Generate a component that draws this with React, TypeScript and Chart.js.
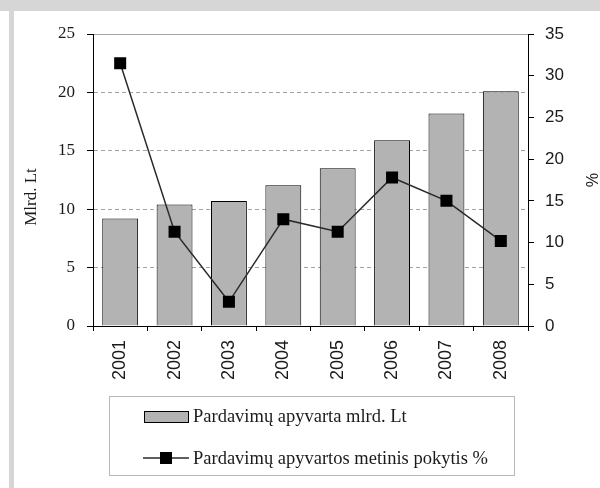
import React, { useEffect, useRef } from "react";
import { Chart, registerables } from "chart.js";

Chart.register(...registerables);

const years = ["2001", "2002", "2003", "2004", "2005", "2006", "2007", "2008"];
const turnover = [9.2, 10.4, 10.7, 12.05, 13.5, 15.9, 18.2, 20.1];
const changePct = [31.5, 11.3, 2.9, 12.8, 11.3, 17.8, 15.0, 10.2];
const leftTicks = [0, 5, 10, 15, 20, 25];
const rightTicks = [0, 5, 10, 15, 20, 25, 30, 35];
const barLabel = "Pardavimų apyvarta mlrd. Lt";
const lineLabel = "Pardavimų apyvartos metinis pokytis %";
const leftTitle = "Mlrd. Lt";
const rightTitle = "%";

const SERIF = '"Liberation Serif", "Times New Roman", serif';
const SANS = '"Liberation Sans", Arial, sans-serif';

const decorPlugin = {
  id: "decor",
  afterDraw(chart: any) {
    const ctx = chart.ctx as CanvasRenderingContext2D;
    ctx.save();
    // axis titles
    ctx.fillStyle = "#1a1a1a";
    ctx.font = `17px ${SERIF}`;
    ctx.textAlign = "center";
    ctx.textBaseline = "middle";
    ctx.save();
    ctx.translate(32, 197);
    ctx.rotate(-Math.PI / 2);
    ctx.fillText(leftTitle, 0, 0);
    ctx.restore();
    ctx.save();
    ctx.translate(590, 180);
    ctx.rotate(Math.PI / 2);
    ctx.font = `16px ${SANS}`;
    ctx.fillText(rightTitle, 0, 0);
    ctx.restore();

    // legend box
    ctx.strokeStyle = "#b8b8b8";
    ctx.lineWidth = 1;
    ctx.strokeRect(109.5, 396.5, 405, 79);

    const ds0 = chart.data.datasets[0];
    const ds1 = chart.data.datasets[1];
    // item 1
    ctx.fillStyle = ds0.backgroundColor;
    ctx.fillRect(144, 411, 44, 11);
    ctx.strokeStyle = "#000";
    ctx.strokeRect(144.5, 411.5, 44, 11);
    ctx.fillStyle = "#1a1a1a";
    ctx.textAlign = "left";
    ctx.font = `18.5px ${SERIF}`;
    ctx.fillText(ds0.label, 193, 417);
    // item 2
    ctx.strokeStyle = ds1.borderColor;
    ctx.lineWidth = 1.5;
    ctx.beginPath();
    ctx.moveTo(143, 458);
    ctx.lineTo(189, 458);
    ctx.stroke();
    ctx.fillStyle = "#000";
    ctx.fillRect(160, 452, 12, 12);
    ctx.fillStyle = "#1a1a1a";
    ctx.fillText(ds1.label, 193, 459);
    ctx.restore();
  },
};

export default function App() {
  const ref = useRef<HTMLCanvasElement>(null);
  useEffect(() => {
    if (!ref.current) return;
    const chart = new Chart(ref.current, {
      type: "bar",
      data: {
        labels: years,
        datasets: [
          {
            type: "bar",
            label: barLabel,
            data: turnover,
            backgroundColor: "#b3b3b3",
            borderColor: "#000",
            borderWidth: 1,
            categoryPercentage: 1,
            barPercentage: 0.66,
            yAxisID: "y",
            order: 2,
          } as any,
          {
            type: "line",
            label: lineLabel,
            data: changePct,
            borderColor: "#2a2a2a",
            borderWidth: 1.5,
            pointStyle: "rect",
            pointRadius: 8.5,
            pointBackgroundColor: "#000",
            pointBorderColor: "#000",
            pointBorderWidth: 0,
            yAxisID: "y1",
            order: 1,
          } as any,
        ],
      },
      options: {
        animation: false,
        responsive: false,
        layout: { padding: { top: 34, left: 0, right: 0, bottom: 0 } },
        plugins: { legend: { display: false }, tooltip: { enabled: false } },
        scales: {
          x: {
            afterFit: (s: any) => {
              s.height = 162;
            },
            grid: {
              offset: true,
              drawOnChartArea: false,
              drawTicks: true,
              tickLength: 5,
              tickColor: "#000",
            },
            border: { color: "#000", width: 1 },
            ticks: {
              minRotation: 90,
              maxRotation: 90,
              padding: 9,
              color: "#1a1a1a",
              font: { family: SANS, size: 18 },
            },
          },
          y: {
            position: "left",
            min: 0,
            max: 25,
            afterFit: (s: any) => {
              s.width = 93;
            },
            afterBuildTicks: (s: any) => {
              s.ticks = leftTicks.map((v) => ({ value: v }));
            },
            grid: {
              color: (c: any) => (c.tick && c.tick.value === 0 ? "rgba(0,0,0,0)" : "#a3a3a3"),
              tickColor: "#000",
              tickLength: 6,
              lineWidth: 1,
            },
            border: {
              color: "#000",
              width: 1,
              dash: (c: any) => (c.tick && c.tick.value === 25 ? [] : [4, 3]),
            } as any,
            ticks: {
              padding: 12,
              color: "#1a1a1a",
              font: { family: SERIF, size: 17 },
            },
          },
          y1: {
            position: "right",
            min: 0,
            max: 35,
            afterFit: (s: any) => {
              s.width = 72;
            },
            afterBuildTicks: (s: any) => {
              s.ticks = rightTicks.map((v) => ({ value: v }));
            },
            grid: {
              drawOnChartArea: false,
              tickColor: "#000",
              tickLength: 6,
            },
            border: { color: "#000", width: 1 },
            ticks: {
              padding: 11,
              color: "#1a1a1a",
              font: { family: SANS, size: 17 },
            },
          },
        },
      } as any,
      plugins: [decorPlugin],
    });
    return () => chart.destroy();
  }, []);

  return (
    <div
      style={{
        position: "absolute",
        left: 0,
        top: 0,
        width: 600,
        height: 488,
        background: "#fff",
        overflow: "hidden",
      }}
    >
      <div style={{ position: "absolute", left: 0, top: 0, width: 600, height: 11, background: "#d6d6d6" }} />
      <div style={{ position: "absolute", left: 9, top: 0, width: 5, height: 488, background: "#d6d6d6" }} />
      <canvas ref={ref} width={600} height={488} style={{ position: "absolute", left: 0, top: 0, width: 600, height: 488 }} />
    </div>
  );
}
